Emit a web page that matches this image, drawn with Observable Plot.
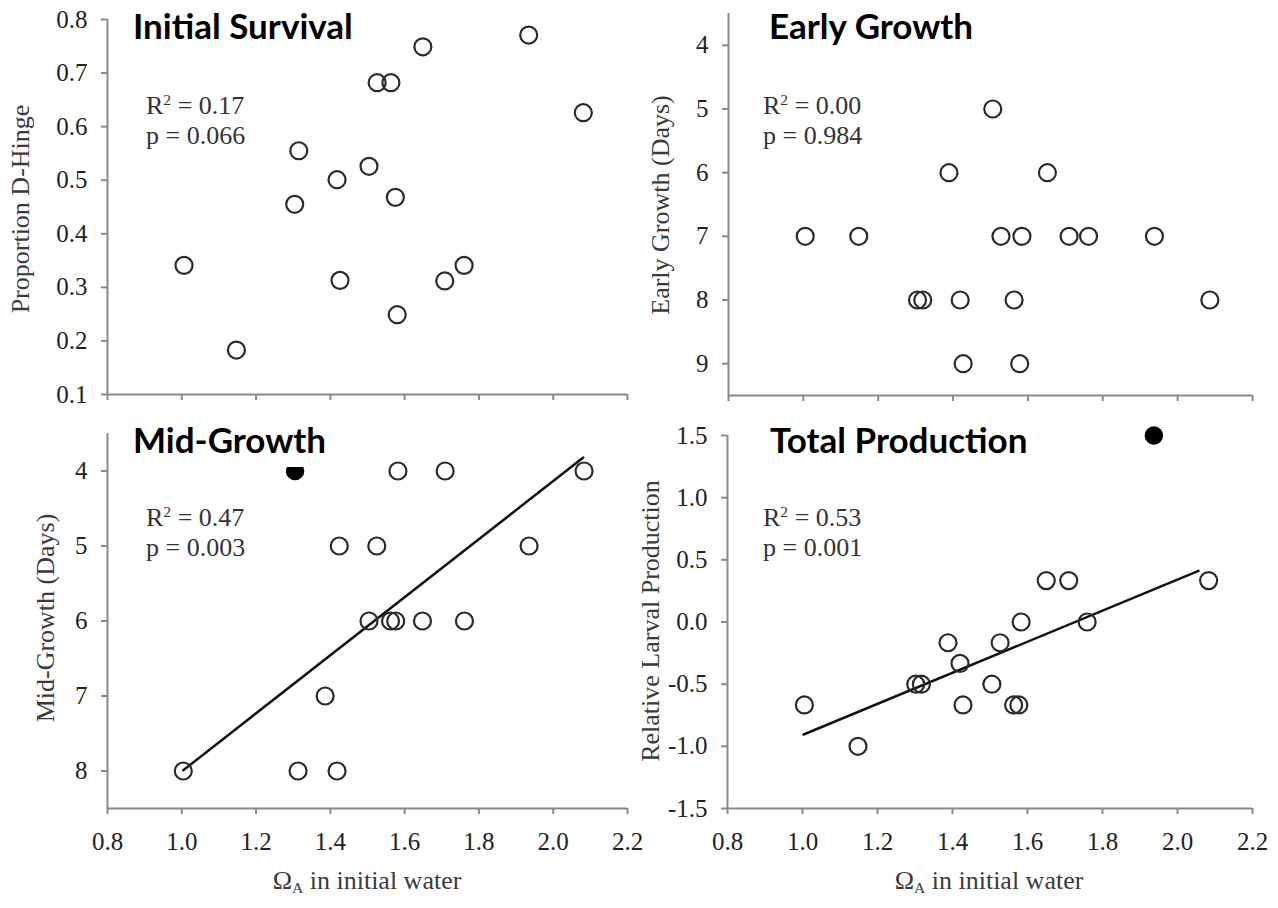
<!DOCTYPE html>
<html><head><meta charset="utf-8">
<script src="https://cdn.jsdelivr.net/npm/d3@7"></script>
<script src="https://cdn.jsdelivr.net/npm/@observablehq/plot@0.6"></script>
<style>
html,body{margin:0;padding:0;background:#fff;}
#fig{position:relative;width:1278px;height:908px;overflow:hidden;background:#fff;font-family:'Liberation Serif','Times New Roman',serif;}
.panel{position:absolute;}
.panel svg text{font-family:'Liberation Serif','Times New Roman',serif !important;font-size:25px !important;}
.title{position:absolute;font-family:Lato,'Open Sans',sans-serif;font-weight:700;font-size:35px;line-height:34px;color:#000;white-space:nowrap;}
.ytitle{position:absolute;font-size:26px;line-height:26px;color:#3a3a3a;white-space:nowrap;transform:translate(-50%,-50%) rotate(-90deg);}
.xtitle{position:absolute;font-size:26px;line-height:30px;color:#3a3a3a;white-space:nowrap;transform:translateX(-50%);}
.stat{position:absolute;font-size:26px;line-height:30px;color:#333;white-space:nowrap;}
sup{font-size:0.6em;line-height:0;vertical-align:0.6em;}
sub{font-size:0.6em;line-height:0;vertical-align:-0.25em;}
</style>
</head><body>
<div id="fig"></div>
<script>
// ---- data ----
const xTicks = [0.8, 1.0, 1.2, 1.4, 1.6, 1.8, 2.0, 2.2];

// Initial Survival
const survX = [1.006, 1.147, 1.304, 1.315, 1.418, 1.426, 1.504, 1.526, 1.563, 1.575, 1.58, 1.649, 1.708, 1.76, 1.934, 2.081];
const survY = [0.341, 0.183, 0.455, 0.555, 0.501, 0.313, 0.526, 0.682, 0.682, 0.468, 0.249, 0.749, 0.312, 0.341, 0.771, 0.626];
const survTicks = [0.1, 0.2, 0.3, 0.4, 0.5, 0.6, 0.7, 0.8];

// Early Growth
const earlyX = [1.005, 1.148, 1.305, 1.319, 1.389, 1.419, 1.427, 1.506, 1.528, 1.563, 1.584, 1.578, 1.652, 1.71, 1.762, 1.938, 2.086];
const earlyY = [7, 7, 8, 8, 6, 8, 9, 5, 7, 8, 7, 9, 6, 7, 7, 7, 8];
const earlyTicks = [4, 5, 6, 7, 8, 9];

// Mid-Growth
const midX = [1.582, 1.709, 2.083, 1.424, 1.525, 1.935, 1.504, 1.562, 1.576, 1.648, 1.761, 1.386, 1.004, 1.313, 1.418];
const midY = [4, 4, 4, 5, 5, 5, 6, 6, 6, 6, 6, 7, 8, 8, 8];
const midFilledX = [1.305];
const midFilledY = [4];
const midFitX = [1.004, 2.081];
const midFitY = [7.99, 3.82];
const midTicks = [4, 5, 6, 7, 8];

// Total Production
const totX = [1.005, 1.148, 1.302, 1.317, 1.388, 1.42, 1.428, 1.505, 1.527, 1.563, 1.577, 1.583, 1.65, 1.71, 1.759, 2.083];
const totY = [-0.667, -1.0, -0.5, -0.5, -0.167, -0.333, -0.667, -0.5, -0.167, -0.667, -0.667, 0, 0.333, 0.333, 0, 0.333];
const totFilledX = [1.937];
const totFilledY = [1.5];
const totFitX = [1.003, 2.056];
const totFitY = [-0.905, 0.411];
const totTicks = [-1.5, -1.0, -0.5, 0.0, 0.5, 1.0, 1.5];

// ---- drawing ----
const fig = document.getElementById("fig");
const pts = (xs, ys) => xs.map((x, i) => ({x, y: ys[i]}));
const f1 = d => d.toFixed(1);
const AX = "#8a8a8a", TXT = "#222";
const SERIF = "'Liberation Serif', 'Times New Roman', serif";

function panel({left, top, width, height, mL, mR, mT, mB, xs, ys, fx, fy, lx, ly, yDomain, yReverse, yTicks, yFmt, xLabels}) {
  const marks = [
    Plot.ruleX([0.8], {stroke: AX, strokeWidth: 2}),
    Plot.ruleY([yReverse ? yDomain[1] : yDomain[0]], {stroke: AX, strokeWidth: 2}),
    Plot.axisX({ticks: xTicks, tickSize: 6, tickPadding: 18, stroke: AX, strokeWidth: 2, fill: TXT,
      fontSize: 25, fontFamily: SERIF, tickFormat: xLabels ? f1 : () => "", label: null}),
    Plot.axisY({ticks: yTicks, tickSize: 6, tickPadding: 14, stroke: AX, strokeWidth: 2, fill: TXT,
      fontSize: 25, fontFamily: SERIF, tickFormat: yFmt, label: null})
  ];
  if (lx) marks.push(Plot.line(pts(lx, ly), {x: "x", y: "y", stroke: "#111", strokeWidth: 2.5}));
  marks.push(Plot.dot(pts(xs, ys), {x: "x", y: "y", r: 8.5, stroke: "#2a2a2a", strokeWidth: 2.2, fill: "none"}));
  if (fx) marks.push(Plot.dot(pts(fx, fy), {x: "x", y: "y", r: 8.5, fill: "#000", stroke: "#000"}));
  const svg = Plot.plot({
    width, height, marginLeft: mL, marginRight: mR, marginTop: mT, marginBottom: mB,
    style: "font-family: 'Liberation Serif', 'Times New Roman', serif; font-size: 25px; background: transparent; overflow: visible;",
    x: {domain: [0.8, 2.2]},
    y: {domain: yDomain, reverse: yReverse},
    marks
  });
  const wrap = document.createElement("div");
  wrap.className = "panel";
  wrap.style.left = left + "px";
  wrap.style.top = top + "px";
  wrap.appendChild(svg);
  fig.appendChild(wrap);
}

panel({left: 0, top: 0, width: 640, height: 440, mL: 107, mR: 13, mT: 19, mB: 46,
  xs: survX, ys: survY, yDomain: [0.1, 0.8], yReverse: false, yTicks: survTicks, yFmt: f1, xLabels: false});
panel({left: 640, top: 0, width: 638, height: 440, mL: 88, mR: 26, mT: 13, mB: 45,
  xs: earlyX, ys: earlyY, yDomain: [3.5, 9.5], yReverse: true, yTicks: earlyTicks, yFmt: d => String(d), xLabels: false});
panel({left: 0, top: 410, width: 640, height: 498, mL: 107, mR: 13, mT: 23, mB: 100,
  xs: midX, ys: midY, fx: midFilledX, fy: midFilledY, lx: midFitX, ly: midFitY,
  yDomain: [3.5, 8.5], yReverse: true, yTicks: midTicks, yFmt: d => String(d), xLabels: true});
panel({left: 640, top: 410, width: 638, height: 498, mL: 87, mR: 26, mT: 25, mB: 100,
  xs: totX, ys: totY, fx: totFilledX, fy: totFilledY, lx: totFitX, ly: totFitY,
  yDomain: [-1.5, 1.5], yReverse: false, yTicks: totTicks, yFmt: f1, xLabels: true});

// ---- text ----
function add(cls, html, css) {
  const d = document.createElement("div");
  d.className = cls;
  d.innerHTML = html;
  Object.assign(d.style, css);
  fig.appendChild(d);
}
add("title", "Initial Survival", {left: "133px", top: "8px"});
add("title", "Early Growth", {left: "769px", top: "8px"});
add("title", "Mid-Growth", {left: "133px", top: "422px", background: "#fff", paddingBottom: "11px"});
add("title", "Total Production", {left: "770px", top: "422px"});

add("stat", "R<sup>2</sup> = 0.17<br>p = 0.066", {left: "146px", top: "91px"});
add("stat", "R<sup>2</sup> = 0.00<br>p = 0.984", {left: "763px", top: "91px"});
add("stat", "R<sup>2</sup> = 0.47<br>p = 0.003", {left: "146px", top: "503px"});
add("stat", "R<sup>2</sup> = 0.53<br>p = 0.001", {left: "763px", top: "503px"});

add("ytitle", "Proportion D-Hinge", {left: "21px", top: "209px"});
add("ytitle", "Early Growth (Days)", {left: "661px", top: "205px"});
add("ytitle", "Mid-Growth (Days)", {left: "46px", top: "618px"});
add("ytitle", "Relative Larval Production", {left: "651px", top: "621px"});

add("xtitle", "Ω<sub>A</sub> in initial water", {left: "367px", top: "866px"});
add("xtitle", "Ω<sub>A</sub> in initial water", {left: "989px", top: "866px"});
</script>
</body></html>
